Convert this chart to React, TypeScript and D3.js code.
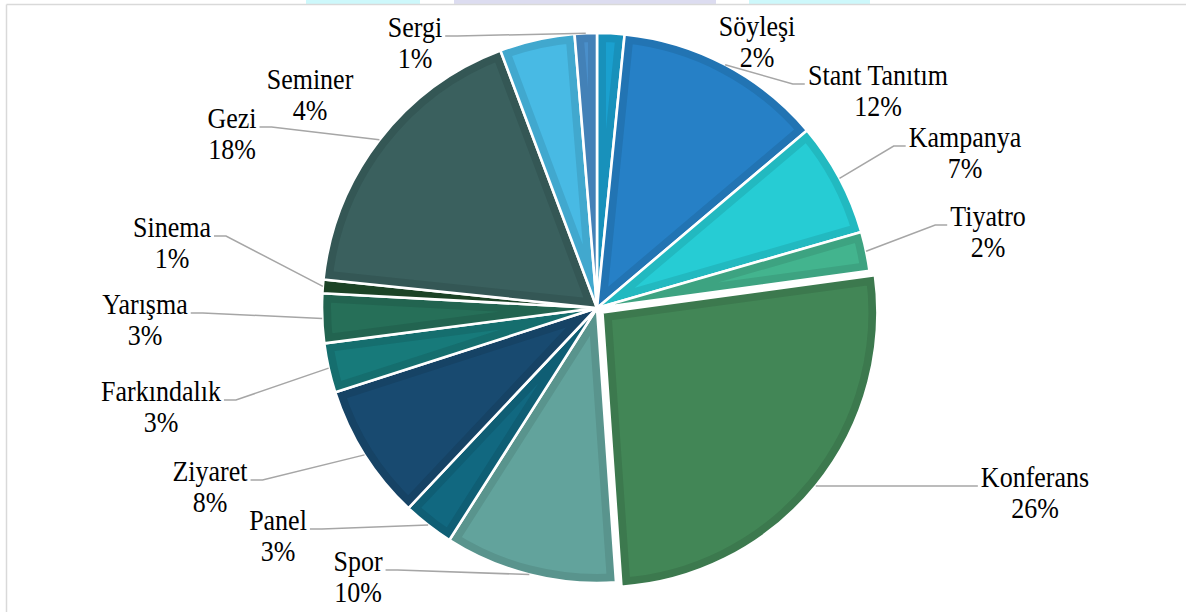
import React from "react";
import * as d3 from "d3";

const categories = ["Söyleşi","Stant Tanıtım","Kampanya","Tiyatro","Konferans","Spor","Panel","Ziyaret","Farkındalık","Yarışma","Sinema","Gezi","Seminer","Sergi"];
const shares = [1.6, 12.2, 6.7, 2.3, 26.0, 10.1, 3.0, 8.0, 2.9, 2.9, 0.8, 17.6, 4.4, 1.3];
const sliceColors = ["#1aa0cf","#2680c6","#26ccd4","#43b48e","#428656","#62a39c","#116880","#184a70","#177a7a","#266f58","#1f4a2a","#3a605e","#48bae4","#4a8fca"];
const explodedSlices = ["Konferans"];
const noLeader = ["Söyleşi","Seminer"];
// label block centres (annotation layout)
const labelLayout: Record<string, [number, number]> = {
  "Söyleşi": [757, 41],
  "Stant Tanıtım": [878, 90],
  "Kampanya": [965, 152],
  "Tiyatro": [988, 231],
  "Konferans": [1035, 492],
  "Spor": [358, 576],
  "Panel": [278, 535],
  "Ziyaret": [210, 486],
  "Farkındalık": [161, 406],
  "Yarışma": [145, 319],
  "Sinema": [172, 242],
  "Gezi": [232, 133],
  "Seminer": [310, 94],
  "Sergi": [415, 42],
};

const W = 1186, H = 612;
const CX = 597, CY = 308, R = 275;
const FONT = 26;
const LINE = 31;
const VSTRETCH = 1.12;

function textWidth(s: string): number {
  if (typeof document === "undefined") return s.length * FONT * 0.5;
  const c = document.createElement("canvas").getContext("2d")!;
  c.font = `${FONT}px "Liberation Serif"`;
  return c.measureText(s).width;
}

export default function App() {
  const total = d3.sum(shares);
  const pie = d3.pie<number>().sort(null).value(d => d).startAngle(0).endAngle(2 * Math.PI);
  const arcs = pie(shares);
  const arcGen = d3.arc<d3.PieArcDatum<number>>().innerRadius(0).outerRadius(R);

  return (
    <svg width={W} height={H} style={{ position: "absolute", left: 0, top: 0, background: "#fff" }}>
      <rect x={306} y={0} width={114} height={4} fill="#cdf8fb" />
      <rect x={454} y={0} width={262} height={4} fill="#dcdcf0" />
      <rect x={749} y={0} width={121} height={4} fill="#cdf8fb" />
      <line x1={6.5} y1={4.5} x2={W} y2={4.5} stroke="#d9d9d9" strokeWidth={1.5} />
      <line x1={6.5} y1={4.5} x2={6.5} y2={H} stroke="#d9d9d9" strokeWidth={1.5} />
      <defs>
        {arcs.map((a, i) => (
          <clipPath id={`clip${i}`} key={i}>
            <path d={arcGen(a) || ""} />
          </clipPath>
        ))}
      </defs>
      {arcs.map((a, i) => {
        const name = categories[i];
        const mid = (a.startAngle + a.endAngle) / 2;
        const off = explodedSlices.includes(name) ? 7 : 0;
        const dx = off * Math.sin(mid), dy = -off * Math.cos(mid);
        const d = arcGen(a) || "";
        const band = d3.rgb(sliceColors[i]).darker(0.28).formatHex();
        return (
          <g key={name} transform={`translate(${CX + dx},${CY + dy})`}>
            <g clipPath={`url(#clip${i})`}>
              <path d={d} fill={sliceColors[i]} stroke={band} strokeWidth={18} />
            </g>
            <path d={d} fill="none" stroke="#fff" strokeWidth={2.6} strokeLinejoin="round" />
          </g>
        );
      })}
      {arcs.map((a, i) => {
        const name = categories[i];
        const [lx, ly] = labelLayout[name];
        const pct = `${Math.round((shares[i] / total) * 100)}%`;
        const mid = (a.startAngle + a.endAngle) / 2;
        const off = explodedSlices.includes(name) ? 7 : 0;
        const px = CX + (R + off) * Math.sin(mid);
        const py = CY - (R + off) * Math.cos(mid);
        const bw = Math.max(textWidth(name), textWidth(pct));
        let leader = null;
        if (!noLeader.includes(name)) {
          const right = px > lx;
          const ex = right ? lx + bw / 2 + 3 : lx - bw / 2 - 3;
          const ey = ly - 6;
          const elx = right ? ex + 12 : ex - 12;
          leader = (
            <polyline points={`${ex},${ey} ${elx},${ey} ${px},${py}`} fill="none" stroke="#a6a6a6" strokeWidth={1.5} />
          );
        }
        return (
          <g key={`lab${i}`}>
            {leader}
            <text transform={`translate(${lx},${ly - LINE / 2}) scale(1,${VSTRETCH})`} textAnchor="middle" dominantBaseline="central" fontFamily='"Liberation Serif", serif' fontSize={FONT} fill="#000">{name}</text>
            <text transform={`translate(${lx},${ly + LINE / 2}) scale(1,${VSTRETCH})`} textAnchor="middle" dominantBaseline="central" fontFamily='"Liberation Serif", serif' fontSize={FONT} fill="#000">{pct}</text>
          </g>
        );
      })}
    </svg>
  );
}
